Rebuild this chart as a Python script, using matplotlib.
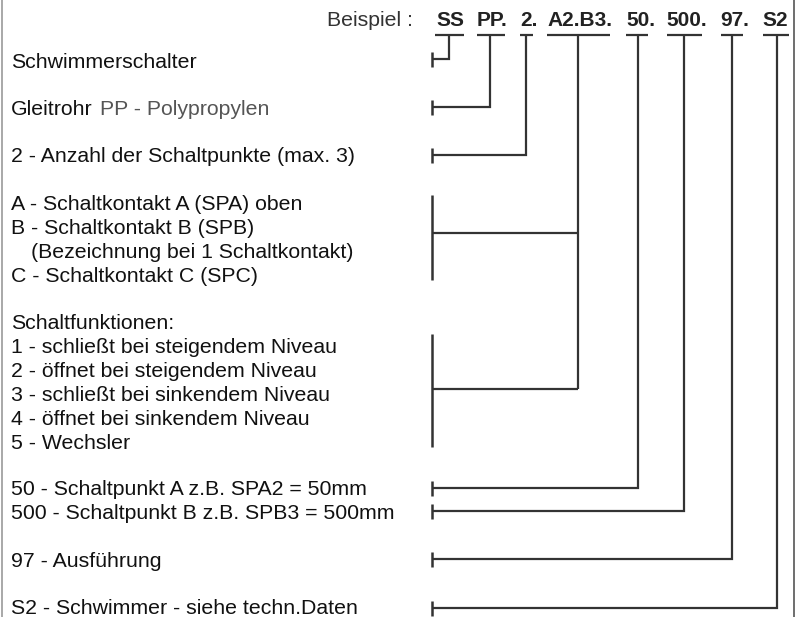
import matplotlib.pyplot as plt

plt.rcParams["font.family"] = ["Liberation Sans", "DejaVu Sans"]

# ordering code parts, shown bold in the top line
code_parts = ["SS", "PP.", "2.", "A2.B3.", "50.", "500.", "97.", "S2"]
code_x = [436, 477, 520, 547, 626, 666, 720, 762]
underline_span = [(435, 464), (477, 505), (520, 533), (547, 610),
                  (626, 648), (667, 702), (721, 743), (763, 789)]
stem_x = [449, 490, 526, 578, 638, 684, 732, 777]

# description lines on the left (text, baseline y, x start)
labels = [
    ("Schwimmerschalter", 68, 11),
    ("Gleitrohr", 115, 11),
    ("2 - Anzahl der Schaltpunkte (max. 3)", 162, 11),
    ("A - Schaltkontakt A (SPA) oben", 210.5, 11),
    ("B - Schaltkontakt B (SPB)", 234.5, 11),
    ("(Bezeichnung bei 1 Schaltkontakt)", 258.5, 31),
    ("C - Schaltkontakt C (SPC)", 282.5, 11),
    ("Schaltfunktionen:", 329, 11),
    ("1 - schließt bei steigendem Niveau", 353, 11),
    ("2 - öffnet bei steigendem Niveau", 377, 11),
    ("3 - schließt bei sinkendem Niveau", 401, 11),
    ("4 - öffnet bei sinkendem Niveau", 425, 11),
    ("5 - Wechsler", 449, 11),
    ("50 - Schaltpunkt A z.B. SPA2 = 50mm", 495, 11),
    ("500 - Schaltpunkt B z.B. SPB3 = 500mm", 519, 11),
    ("97 - Ausführung", 567, 11),
    ("S2 - Schwimmer - siehe techn.Daten", 614, 11),
]

# where each code stem ends and joins the left marker
stem_end_y = [59, 107, 155, None, 488, 511, 559, 608]
bracket_y = [233, 389]
bracket_spans = [(195, 280), (334, 447)]

LINE = "#333333"
TICK_X = 432
FS = 15.3

fig = plt.figure(figsize=(8.06, 6.17), dpi=100)
ax = fig.add_axes([0, 0, 1, 1])
ax.set_xlim(0, 806)
ax.set_ylim(617, 0)
ax.axis("off")

# frame lines left and right
ax.plot([1.5, 1.5], [0, 617], color="#999999", lw=1.2)
ax.plot([793.5, 793.5], [0, 617], color="#555555", lw=1.2)

ax.text(413, 26, "Beispiel :", fontsize=FS, ha="right", va="baseline", color="#333333")
for part, x in zip(code_parts, code_x):
    ax.text(x, 26, part, fontsize=15, fontweight="bold", ha="left", va="baseline",
            color="#222222")

for (x0, x1) in underline_span:
    ax.plot([x0, x1], [34.5, 34.5], color=LINE, lw=1.6, solid_capstyle="butt")

for label, y, x in labels:
    ax.text(x, y, label, fontsize=FS, ha="left", va="baseline", color="#111111")
ax.text(100, 115, "PP - Polypropylen", fontsize=FS, ha="left", va="baseline", color="#555555")

# single stems with end marker
for sx, ey in zip(stem_x, stem_end_y):
    if ey is None:
        continue
    ax.plot([sx, sx, TICK_X], [34.5, ey, ey], color=LINE, lw=1.6,
            solid_joinstyle="miter", solid_capstyle="butt")
    ax.plot([TICK_X, TICK_X], [ey - 7.5, ey + 7.5], color=LINE, lw=1.8,
            solid_capstyle="butt")

# A2.B3. stem feeds two brackets
sx = stem_x[3]
ax.plot([sx, sx], [34.5, bracket_y[1]], color=LINE, lw=1.6, solid_capstyle="butt")
for by, (b0, b1) in zip(bracket_y, bracket_spans):
    ax.plot([TICK_X, sx], [by, by], color=LINE, lw=1.6, solid_capstyle="butt")
    ax.plot([TICK_X, TICK_X], [b0, b1], color=LINE, lw=1.8, solid_capstyle="butt")

fig.savefig("out.png", dpi=100, facecolor="white")
